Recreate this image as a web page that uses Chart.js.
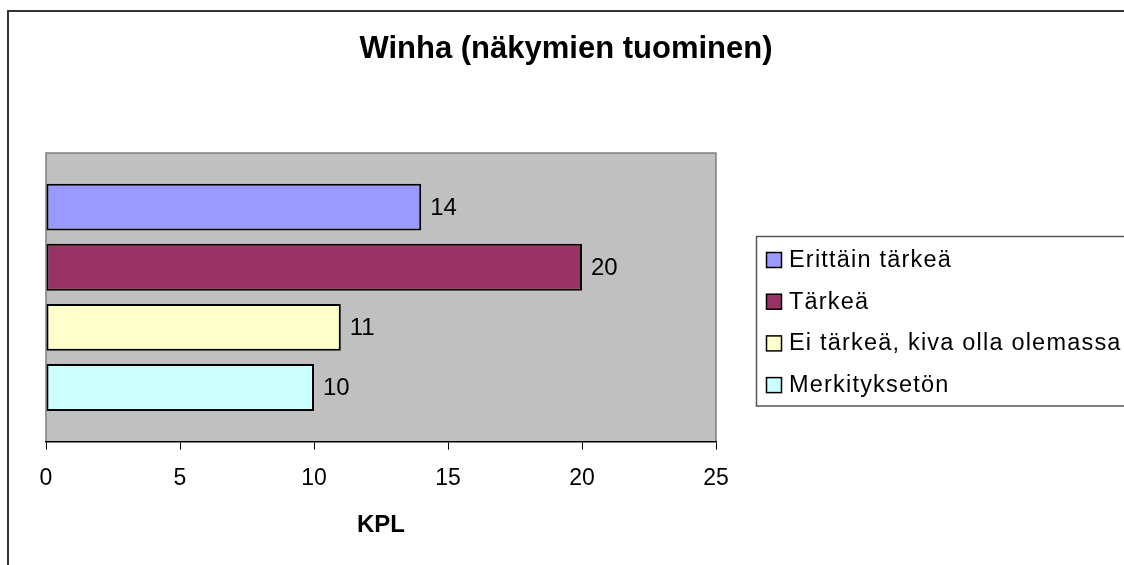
<!DOCTYPE html>
<html>
<head>
<meta charset="utf-8">
<title>Winha (näkymien tuominen)</title>
<script src="https://cdn.jsdelivr.net/npm/chart.js@4"></script>
<style>
  html, body { margin: 0; padding: 0; background: #fff; }
  #wrap { width: 1124px; height: 565px; position: relative; }
</style>
</head>
<body>
<div id="wrap"><canvas id="chart"></canvas></div>
<script>
const chartTitle = 'Winha (näkymien tuominen)';
const axisTitle = 'KPL';
const categories = [''];
const seriesNames = ['Erittäin tärkeä', 'Tärkeä', 'Ei tärkeä, kiva olla olemassa', 'Merkityksetön'];
const seriesValues = [14, 20, 11, 10];
const seriesColors = ['#9999FF', '#993366', '#FFFFCC', '#CCFFFF'];
const xTicks = [0, 5, 10, 15, 20, 25];

document.addEventListener('DOMContentLoaded', () => {
  const ctx = document.getElementById('chart').getContext('2d');

  // grey plot area, its frame and the outer chart frame
  const plotArea = {
    id: 'plotArea',
    beforeDraw(chart) {
      const { ctx, chartArea: a } = chart;
      ctx.save();
      ctx.fillStyle = '#C0C0C0';
      ctx.fillRect(a.left, a.top, a.right - a.left, a.bottom - a.top);
      ctx.strokeStyle = '#808080';
      ctx.lineWidth = 1.5;
      ctx.beginPath();
      ctx.moveTo(a.left, a.bottom);
      ctx.lineTo(a.left, a.top);
      ctx.lineTo(a.right, a.top);
      ctx.lineTo(a.right, a.bottom);
      ctx.stroke();

      ctx.strokeStyle = '#333';
      ctx.lineWidth = 2;
      ctx.beginPath();
      ctx.moveTo(8, chart.height + 5);
      ctx.lineTo(8, 11);
      ctx.lineTo(chart.width + 5, 11);
      ctx.stroke();
      ctx.restore();
    }
  };

  // value next to each bar
  const valueLabels = {
    id: 'valueLabels',
    afterDatasetsDraw(chart) {
      const { ctx } = chart;
      ctx.save();
      ctx.font = '24px "Liberation Sans", Arial, sans-serif';
      ctx.fillStyle = '#000';
      ctx.textAlign = 'left';
      ctx.textBaseline = 'middle';
      chart.data.datasets.forEach((ds, i) => {
        chart.getDatasetMeta(i).data.forEach((bar, j) => {
          ctx.fillText(String(ds.data[j]), bar.x + 9, bar.y + 1);
        });
      });
      ctx.restore();
    }
  };

  // title and boxed legend
  const decorations = {
    id: 'decorations',
    afterDraw(chart) {
      const { ctx } = chart;
      ctx.save();
      ctx.fillStyle = '#000';
      ctx.font = 'bold 31px "Liberation Sans", Arial, sans-serif';
      ctx.textAlign = 'center';
      ctx.textBaseline = 'alphabetic';
      ctx.fillText(chartTitle, chart.width / 2 + 4, 58);
      ctx.restore();

      const boxLeft = 756.5, boxTop = 236.5, boxBottom = 406;
      ctx.save();
      ctx.fillStyle = '#fff';
      ctx.fillRect(boxLeft, boxTop, chart.width - boxLeft + 10, boxBottom - boxTop);
      ctx.strokeStyle = '#555';
      ctx.lineWidth = 1.5;
      ctx.strokeRect(boxLeft, boxTop, chart.width - boxLeft + 10, boxBottom - boxTop);

      chart.data.datasets.forEach((ds, i) => {
        const base = 267 + i * 41.7;
        ctx.fillStyle = ds.backgroundColor;
        ctx.fillRect(766.5, base - 14.5, 15, 15);
        ctx.strokeStyle = '#000';
        ctx.lineWidth = 1.5;
        ctx.strokeRect(766.5, base - 14.5, 15, 15);

        ctx.save();
        ctx.fillStyle = '#000';
        ctx.font = '23.5px "Liberation Sans", Arial, sans-serif';
        ctx.textAlign = 'left';
        ctx.textBaseline = 'alphabetic';
        if ('letterSpacing' in ctx) {
          ctx.letterSpacing = '1.2px';
          ctx.fillText(ds.label, 789, base);
        } else {
          ctx.translate(789, base);
          ctx.scale(1.11, 1);
          ctx.fillText(ds.label, 0, 0);
        }
        ctx.restore();
      });
      ctx.restore();
    }
  };

  const datasets = seriesNames.map((name, i) => ({
    label: name,
    data: [seriesValues[i]],
    backgroundColor: seriesColors[i],
    borderColor: '#000',
    borderWidth: 2,
    borderSkipped: false,
    categoryPercentage: 0.833,
    barPercentage: 0.78
  }));

  new Chart(ctx, {
    type: 'bar',
    data: { labels: categories, datasets: datasets },
    options: {
      indexAxis: 'y',
      responsive: true,
      maintainAspectRatio: false,
      animation: false,
      layout: { padding: { left: 46, right: 408, top: 153, bottom: 22 } },
      plugins: {
        legend: { display: false },
        title: { display: false },
        tooltip: { enabled: false }
      },
      scales: {
        y: { display: false },
        x: {
          min: xTicks[0],
          max: xTicks[xTicks.length - 1],
          ticks: {
            stepSize: xTicks[1] - xTicks[0],
            color: '#000',
            padding: 15,
            font: { family: '"Liberation Sans", Arial, sans-serif', size: 23 }
          },
          grid: {
            drawOnChartArea: false,
            drawTicks: true,
            tickLength: 8,
            color: '#000'
          },
          border: { display: true, color: '#000', width: 1.5 },
          title: {
            display: true,
            text: axisTitle,
            color: '#000',
            padding: { top: 4, bottom: 3 },
            font: { family: '"Liberation Sans", Arial, sans-serif', size: 24, weight: 'bold' }
          }
        }
      }
    },
    plugins: [plotArea, valueLabels, decorations]
  });
});
</script>
</body>
</html>
